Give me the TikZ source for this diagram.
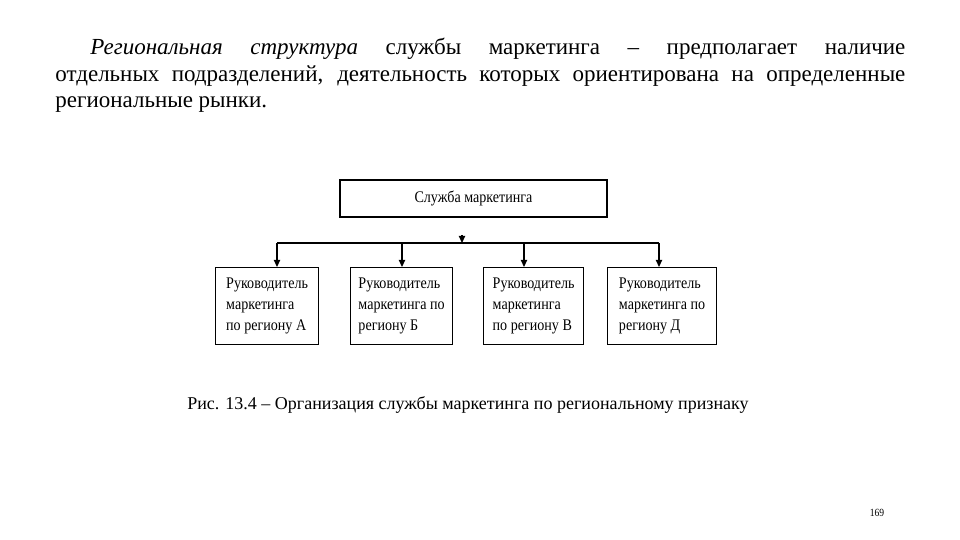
\documentclass[tikz,border=0pt]{standalone}
\usepackage{fontspec}
\setmainfont{Liberation Serif}
\newfontfamily\bodyfont{Liberation Serif}
\newfontfamily\chartfont[FakeStretch=0.87]{Liberation Serif}
\usetikzlibrary{arrows.meta}

\tikzstyle{chief} = [draw, line width=0.6pt, minimum width=133.5pt, minimum height=18.5pt, inner sep=0pt, font=\chartfont\fontsize{8.1}{9}\selectfont]
\tikzstyle{region} = [draw, line width=0.6pt, minimum height=38.5pt, inner sep=0pt, align=left, anchor=north west, font=\chartfont\fontsize{8.1}{10.5}\selectfont]
\tikzstyle{conn} = [line width=0.6pt, -{Triangle[width=3.2pt,length=3.6pt]}]

\begin{document}
\begin{tikzpicture}[x=0.5pt,y=-0.5pt]
  \useasboundingbox (0,0) rectangle (960,540);
  % text above the chart
  \node (para) at (55,38) [anchor=north west, text width=425pt, align=justify, inner sep=0pt,
    font=\bodyfont\fontsize{11.5}{13.2}\selectfont]
    {\hspace*{17.5pt}\textit{Региональная структура} службы маркетинга – предполагает наличие\linebreak
     отдельных подразделений, деятельность которых ориентирована на определенные\linebreak
     региональные рынки.};
  % chart
  \node (head) at (473.5,198.5) [chief] {Служба маркетинга};
  \node (ra) at (215,267) [region, minimum width=51.5pt] {Руководитель\\маркетинга\\по региону А};
  \node (rb) at (350,267) [region, minimum width=51pt] {Руководитель\\маркетинга по\\региону Б};
  \node (rc) at (483,267) [region, minimum width=50pt] {Руководитель\\маркетинга\\по региону В};
  \node (rd) at (607,267) [region, minimum width=54.5pt] {Руководитель\\маркетинга по\\региону Д};
  \coordinate (bus) at (462,243);
  \coordinate (d1) at (277,243);
  \coordinate (d2) at (402,243);
  \coordinate (d3) at (524,243);
  \coordinate (d4) at (659,243);
  \draw [conn] ([yshift=4pt]bus) -- (bus);
  \draw [line width=0.6pt] (d1) -- (d4);
  \draw [conn] (d1) -- (d1 |- ra.north);
  \draw [conn] (d2) -- (d2 |- rb.north);
  \draw [conn] (d3) -- (d3 |- rc.north);
  \draw [conn] (d4) -- (d4 |- rd.north);
  % caption and page number
  \node (cap) at (468,405) [font=\bodyfont\fontsize{9}{11}\selectfont] {Рис. 13.4 – Организация службы маркетинга по региональному признаку};
  \node (page) at (877,513) [font=\chartfont\fontsize{5.5}{6}\selectfont] {169};
\end{tikzpicture}
\end{document}
